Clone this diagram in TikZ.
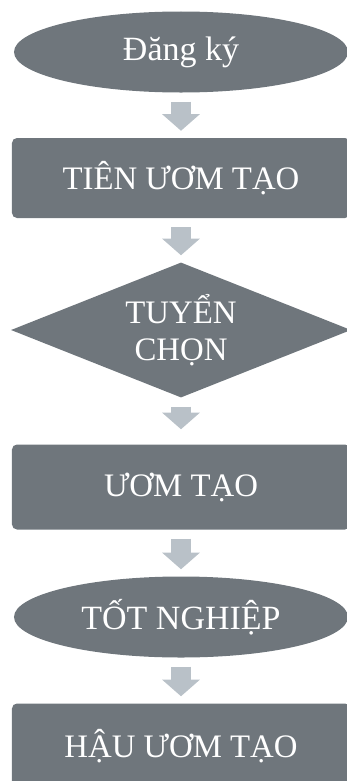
\documentclass[tikz,border=0pt]{standalone}
\usepackage{fontspec}
\setmainfont{Liberation Serif}
\usetikzlibrary{shapes.geometric,arrows.meta}
\definecolor{stagegray}{HTML}{6F767C}
\definecolor{flowgray}{HTML}{B9C1C8}

\begin{document}
\begin{tikzpicture}[x=0.03cm,y=-0.03cm,
  stage/.style={fill=stagegray,text=white,inner sep=0pt,font=\fontsize{28}{32}\selectfont},
  flow/.style={flowgray,line width=0.6cm,-{Triangle[width=1.11cm,length=0.5cm]},
    shorten <=0.27cm,shorten >=0.21cm}]
  \useasboundingbox (0,0) rectangle (347,781);
  \node[stage,ellipse,minimum width=10.02cm,minimum height=2.43cm,
    font=\fontsize{29}{33}\selectfont] (S-1) at (181,52) {Đăng ký};
  \node[stage,rectangle,rounded corners=0.15cm,minimum width=10.14cm,minimum height=2.4cm] (S-2) at (181,178) {TIÊN ƯƠM TẠO};
  \node[stage,diamond,aspect=2.5,minimum width=10.2cm,minimum height=4.05cm,align=center] (S-3) at (181,330) {TUYỂN\\CHỌN};
  \node[stage,rectangle,rounded corners=0.15cm,minimum width=10.14cm,minimum height=2.55cm] (S-4) at (181,487) {ƯƠM TẠO};
  \node[stage,ellipse,minimum width=10.02cm,minimum height=2.43cm,
    font=\fontsize{29}{33}\selectfont] (S-5) at (181,617) {TỐT NGHIỆP};
  \node[stage,rectangle,rounded corners=0.15cm,minimum width=10.14cm,minimum height=2.55cm] (S-6) at (181,746) {HẬU ƯƠM TẠO};
  \draw[flow] (S-1) -- (S-2);
  \draw[flow] (S-2) -- (S-3);
  \draw[flow,shorten >=0.45cm] (S-3) -- (S-4);
  \draw[flow] (S-4) -- (S-5);
  \draw[flow] (S-5) -- (S-6);
\end{tikzpicture}
\end{document}
